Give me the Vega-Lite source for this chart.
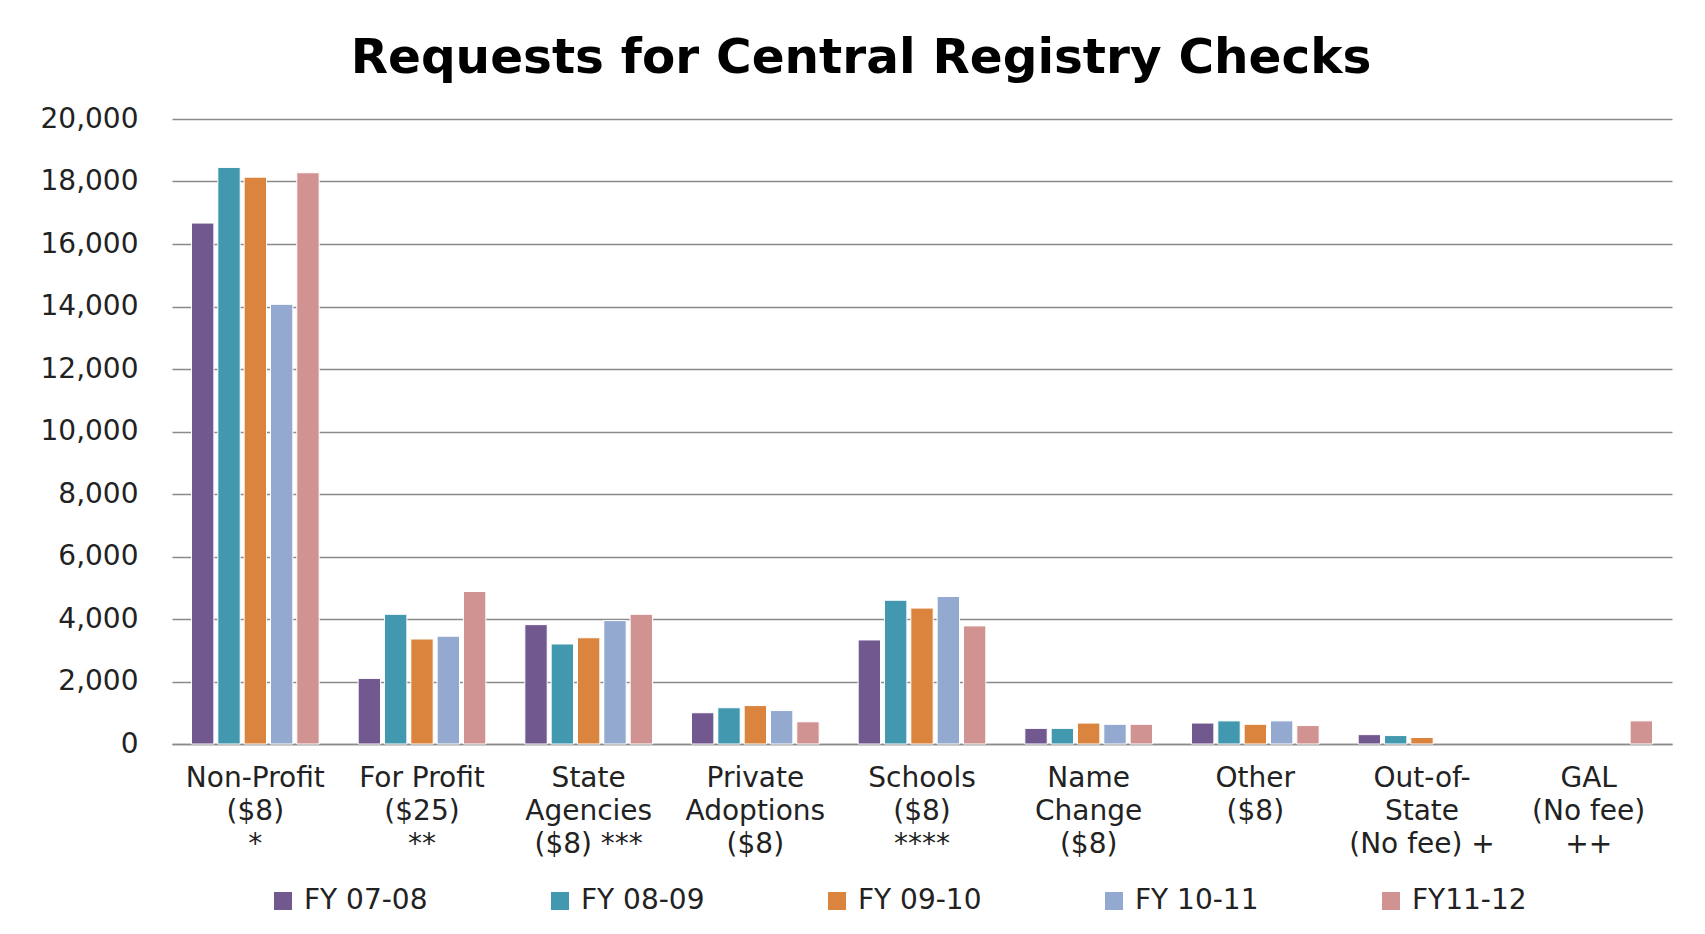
{
  "$schema": "https://vega.github.io/schema/vega-lite/v6.json",
  "autosize": {"type": "none"},
  "width": 1500,
  "height": 625,
  "padding": {"left": 172, "top": 119, "right": 33, "bottom": 190},
  "background": "white",
  "title": {
    "text": "Requests for Central Registry Checks",
    "font": "DejaVu Sans",
    "fontSize": 48.5,
    "fontWeight": "bold",
    "color": "#000000",
    "anchor": "middle",
    "baseline": "alphabetic",
    "offset": -16,
    "dx": -61
  },
  "data": {
    "values": [
      {"cat": "Non-Profit|($8)|*", "fy": "FY 07-08", "v": 16670},
      {"cat": "Non-Profit|($8)|*", "fy": "FY 08-09", "v": 18450},
      {"cat": "Non-Profit|($8)|*", "fy": "FY 09-10", "v": 18140},
      {"cat": "Non-Profit|($8)|*", "fy": "FY 10-11", "v": 14070},
      {"cat": "Non-Profit|($8)|*", "fy": "FY11-12", "v": 18280},
      {"cat": "For Profit|($25)|**", "fy": "FY 07-08", "v": 2100},
      {"cat": "For Profit|($25)|**", "fy": "FY 08-09", "v": 4150},
      {"cat": "For Profit|($25)|**", "fy": "FY 09-10", "v": 3360},
      {"cat": "For Profit|($25)|**", "fy": "FY 10-11", "v": 3450},
      {"cat": "For Profit|($25)|**", "fy": "FY11-12", "v": 4880},
      {"cat": "State|Agencies|($8) ***", "fy": "FY 07-08", "v": 3820},
      {"cat": "State|Agencies|($8) ***", "fy": "FY 08-09", "v": 3200},
      {"cat": "State|Agencies|($8) ***", "fy": "FY 09-10", "v": 3400},
      {"cat": "State|Agencies|($8) ***", "fy": "FY 10-11", "v": 3950},
      {"cat": "State|Agencies|($8) ***", "fy": "FY11-12", "v": 4150},
      {"cat": "Private|Adoptions|($8)", "fy": "FY 07-08", "v": 1000},
      {"cat": "Private|Adoptions|($8)", "fy": "FY 08-09", "v": 1160},
      {"cat": "Private|Adoptions|($8)", "fy": "FY 09-10", "v": 1230},
      {"cat": "Private|Adoptions|($8)", "fy": "FY 10-11", "v": 1070},
      {"cat": "Private|Adoptions|($8)", "fy": "FY11-12", "v": 710},
      {"cat": "Schools|($8)|****", "fy": "FY 07-08", "v": 3330},
      {"cat": "Schools|($8)|****", "fy": "FY 08-09", "v": 4600},
      {"cat": "Schools|($8)|****", "fy": "FY 09-10", "v": 4350},
      {"cat": "Schools|($8)|****", "fy": "FY 10-11", "v": 4720},
      {"cat": "Schools|($8)|****", "fy": "FY11-12", "v": 3780},
      {"cat": "Name|Change|($8)", "fy": "FY 07-08", "v": 500},
      {"cat": "Name|Change|($8)", "fy": "FY 08-09", "v": 500},
      {"cat": "Name|Change|($8)", "fy": "FY 09-10", "v": 670},
      {"cat": "Name|Change|($8)", "fy": "FY 10-11", "v": 630},
      {"cat": "Name|Change|($8)", "fy": "FY11-12", "v": 630},
      {"cat": "Other|($8)", "fy": "FY 07-08", "v": 670},
      {"cat": "Other|($8)", "fy": "FY 08-09", "v": 740},
      {"cat": "Other|($8)", "fy": "FY 09-10", "v": 630},
      {"cat": "Other|($8)", "fy": "FY 10-11", "v": 740},
      {"cat": "Other|($8)", "fy": "FY11-12", "v": 590},
      {"cat": "Out-of-|State|(No fee) +", "fy": "FY 07-08", "v": 300},
      {"cat": "Out-of-|State|(No fee) +", "fy": "FY 08-09", "v": 270},
      {"cat": "Out-of-|State|(No fee) +", "fy": "FY 09-10", "v": 210},
      {"cat": "GAL|(No fee)|++", "fy": "FY11-12", "v": 740}
    ]
  },
  "mark": {"type": "bar", "stroke": "white", "strokeWidth": 1},
  "encoding": {
    "x": {
      "field": "cat",
      "type": "nominal",
      "sort": null,
      "title": null,
      "scale": {"paddingInner": 0.234, "paddingOuter": 0.117},
      "axis": {
        "labelExpr": "split(datum.label, '|')",
        "labelAngle": 0,
        "labelFont": "DejaVu Sans",
        "labelFontSize": 28,
        "labelLineHeight": 33,
        "labelColor": "#222222",
        "labelPadding": 20,
        "labelLimit": 400,
        "ticks": false,
        "domainColor": "#8a8a8a",
        "domainWidth": 1.5,
        "grid": false
      }
    },
    "xOffset": {
      "field": "fy",
      "type": "nominal",
      "sort": ["FY 07-08", "FY 08-09", "FY 09-10", "FY 10-11", "FY11-12"],
      "scale": {"paddingInner": 0.15}
    },
    "y": {
      "field": "v",
      "type": "quantitative",
      "title": null,
      "scale": {"domain": [0, 20000], "nice": false},
      "axis": {
        "values": [0, 2000, 4000, 6000, 8000, 10000, 12000, 14000, 16000, 18000, 20000],
        "format": ",.0f",
        "labelFont": "DejaVu Sans",
        "labelFontSize": 28,
        "labelColor": "#222222",
        "labelPadding": 34,
        "ticks": false,
        "domain": false,
        "gridColor": "#8a8a8a",
        "gridWidth": 1.5
      }
    },
    "color": {
      "field": "fy",
      "type": "nominal",
      "title": null,
      "sort": ["FY 07-08", "FY 08-09", "FY 09-10", "FY 10-11", "FY11-12"],
      "scale": {
        "domain": ["FY 07-08", "FY 08-09", "FY 09-10", "FY 10-11", "FY11-12"],
        "range": ["#71588F", "#4198AF", "#DB843D", "#93A9CF", "#D19392"]
      },
      "legend": {
        "orient": "none",
        "direction": "horizontal",
        "legendX": 97,
        "legendY": 768,
        "padding": 0,
        "symbolType": "square",
        "symbolSize": 324,
        "symbolStrokeWidth": 0,
        "labelFont": "DejaVu Sans",
        "labelFontSize": 28,
        "labelColor": "#222222",
        "labelOffset": 7,
        "gridAlign": "all",
        "columnPadding": 118,
        "labelLimit": 300
      }
    }
  },
  "config": {
    "view": {"stroke": null}
  }
}
